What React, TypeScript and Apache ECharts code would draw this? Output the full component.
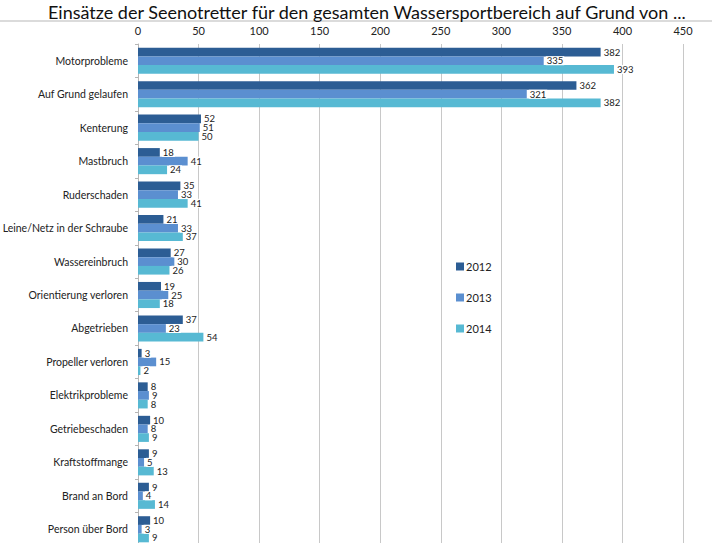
import { useEffect, useRef } from 'react'
import * as echarts from 'echarts'

const categories = [
  'Motorprobleme',
  'Auf Grund gelaufen',
  'Kenterung',
  'Mastbruch',
  'Ruderschaden',
  'Leine/Netz in der Schraube',
  'Wassereinbruch',
  'Orientierung verloren',
  'Abgetrieben',
  'Propeller verloren',
  'Elektrikprobleme',
  'Getriebeschaden',
  'Kraftstoffmange',
  'Brand an Bord',
  'Person über Bord',
]

const values2012 = [382, 362, 52, 18, 35, 21, 27, 19, 37, 3, 8, 10, 9, 9, 10]
const values2013 = [335, 321, 51, 41, 33, 33, 30, 25, 23, 15, 9, 8, 5, 4, 3]
const values2014 = [393, 382, 50, 24, 41, 37, 26, 18, 54, 2, 8, 9, 13, 14, 9]

const seriesNames = ['2012', '2013', '2014']
const seriesColors = ['#2c5d94', '#5b8fd0', '#57b9d3']

const FONT = 'Lato, "Open Sans", sans-serif'

const App: React.FC = () => {
  const chartRef = useRef<HTMLDivElement | null>(null)

  useEffect(() => {
    if (!chartRef.current) return
    const chart = echarts.init(chartRef.current, null, { renderer: 'svg' })

    const makeSeries = (name: string, data: number[], color: string) => ({
      name,
      type: 'bar' as const,
      data,
      barWidth: 8.7,
      barGap: '0%',
      itemStyle: { color },
      label: {
        show: true,
        position: 'right' as const,
        distance: 2,
        color: '#222',
        fontSize: 9.5,
        fontFamily: FONT,
        backgroundColor: '#fff',
        padding: [0, 1, 0, 1],
        lineHeight: 9,
      },
    })

    chart.setOption({
      animation: false,
      textStyle: { fontFamily: FONT },
      title: {
        text: 'Einsätze der Seenotretter für den gesamten Wassersportbereich auf Grund von ...',
        left: 43,
        top: -2,
        textStyle: { fontSize: 18, fontWeight: 'normal', color: '#111', fontFamily: FONT },
      },
      graphic: [
        {
          type: 'line',
          shape: { x1: 0, y1: 21, x2: 712, y2: 21 },
          style: { stroke: '#cfcfcf', lineWidth: 1.5 },
        },
      ],
      legend: {
        data: seriesNames,
        orient: 'vertical',
        left: 451,
        top: 256,
        itemWidth: 8,
        itemHeight: 8,
        itemGap: 20,
        icon: 'rect',
        textStyle: { fontSize: 11, color: '#222', fontFamily: FONT, padding: [0, 0, 0, -3] },
      },
      grid: {
        left: 138,
        right: 29,
        top: 44,
        bottom: -3,
        containLabel: false,
        outerBoundsMode: 'none',
      },
      xAxis: {
        type: 'value',
        position: 'top',
        min: 0,
        max: 450,
        interval: 50,
        axisLine: { show: false },
        axisTick: { show: false },
        axisLabel: { color: '#222', fontSize: 11, margin: 8 },
        splitLine: { show: true, lineStyle: { color: '#c8c8c8', width: 1 } },
      },
      yAxis: {
        type: 'category',
        inverse: true,
        data: categories,
        axisLine: { show: true, lineStyle: { color: '#b5b5b5' } },
        axisTick: { show: true, length: 3, lineStyle: { color: '#b5b5b5' } },
        axisLabel: { color: '#222', fontSize: 10.5, margin: 10 },
      },
      series: [
        makeSeries(seriesNames[0], values2012, seriesColors[0]),
        makeSeries(seriesNames[1], values2013, seriesColors[1]),
        makeSeries(seriesNames[2], values2014, seriesColors[2]),
      ],
    })

    return () => {
      chart.dispose()
    }
  }, [])

  return (
    <div
      ref={chartRef}
      style={{ position: 'fixed', left: 0, top: 0, width: 712, height: 543, background: '#fff' }}
    />
  )
}

export default App
